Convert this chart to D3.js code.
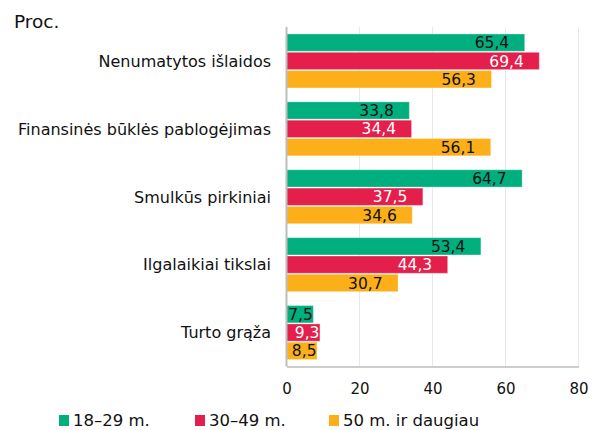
<!DOCTYPE html>
<html>
<head>
<meta charset="utf-8">
<script src="https://cdn.jsdelivr.net/npm/d3@7"></script>
<style>
  body { margin: 0; background: #fff; }
  text { font-family: "DejaVu Sans", Verdana, sans-serif; }
</style>
</head>
<body>
<div id="chart"></div>
<script>
// data
var categories = ["Nenumatytos išlaidos", "Finansinės būklės pablogėjimas", "Smulkūs pirkiniai", "Ilgalaikiai tikslai", "Turto grąža"];
var seriesNames = ["18–29 m.", "30–49 m.", "50 m. ir daugiau"];
var young = [65.4, 33.8, 64.7, 53.4, 7.5];
var middle = [69.4, 34.4, 37.5, 44.3, 9.3];
var older = [56.3, 56.1, 34.6, 30.7, 8.5];
var xTicks = [0, 20, 40, 60, 80];

var colors = ["#00ae7e", "#e41f4b", "#fcaf18"];
var labelColors = ["#111", "#fff", "#111"];
var series = [young, middle, older];

var width = 598, height = 430;
var plotLeft = 286.5, plotRight = 578.5, plotTop = 27, plotBottom = 366.5;

var svg = d3.select("#chart").append("svg")
  .attr("width", width)
  .attr("height", height);

var x = d3.scaleLinear().domain([0, 80]).range([plotLeft, plotRight]);
var y = d3.scaleBand().domain(categories).range([plotTop, plotBottom]).paddingInner(0.19).paddingOuter(0.095);
var ySub = d3.scaleBand().domain(d3.range(seriesNames.length)).range([0, y.bandwidth()]);

// gridlines
svg.append("g").selectAll("line")
  .data(xTicks.slice(1))
  .join("line")
  .attr("x1", d => x(d)).attr("x2", d => x(d))
  .attr("y1", plotTop).attr("y2", plotBottom)
  .attr("stroke", "#e8e8e8").attr("stroke-width", 1);

// bars
var groups = svg.append("g").selectAll("g")
  .data(categories)
  .join("g")
  .attr("transform", d => "translate(0," + y(d) + ")");

groups.each(function(cat, ci) {
  var g = d3.select(this);
  series.forEach(function(vals, si) {
    var v = vals[ci];
    g.append("rect")
      .attr("x", x(0))
      .attr("y", ySub(si) + 0.5)
      .attr("width", x(v) - x(0) - 0.5)
      .attr("height", ySub.bandwidth() - 1)
      .attr("fill", colors[si])
      .attr("stroke", "#fff").attr("stroke-opacity", 0.35).attr("stroke-width", 1);
    var t = g.append("text")
      .attr("y", ySub(si) + ySub.bandwidth() / 2)
      .attr("dy", "0.36em")
      .attr("text-anchor", "end")
      .attr("fill", labelColors[si])
      .style("font-size", "15.5px")
      .text(String(v).replace(".", ","));
    var w = t.node().getComputedTextLength();
    var end = x(v) - 16;
    if (end - w < x(0) + 2) end = x(v) - 1;
    t.attr("x", end);
  });
});

// category labels
svg.append("g").selectAll("text")
  .data(categories)
  .join("text")
  .attr("x", 271)
  .attr("y", d => y(d) + y.bandwidth() / 2)
  .attr("dy", "0.36em")
  .attr("text-anchor", "end")
  .attr("fill", "#111")
  .style("font-size", "16px")
  .text(d => d);

// axes lines
svg.append("line")
  .attr("x1", plotLeft).attr("x2", plotLeft).attr("y1", plotTop).attr("y2", plotBottom)
  .attr("stroke", "#bdbdbd").attr("stroke-width", 2);

var xAxis = d3.axisBottom(x).tickValues(xTicks).tickSize(0).tickPadding(17);
var ax = svg.append("g").attr("transform", "translate(0," + plotBottom + ")").call(xAxis);
ax.select(".domain").attr("stroke", "#bdbdbd").attr("stroke-width", 1.5);
ax.selectAll("text").style("font-size", "15px").attr("fill", "#111")
  .style("font-family", "'DejaVu Sans', Verdana, sans-serif");

// unit label
svg.append("text")
  .attr("x", 14).attr("y", 28)
  .attr("fill", "#111")
  .style("font-size", "18.5px")
  .text("Proc.");

// legend
var legendX = [59, 195, 329];
var legend = svg.append("g").selectAll("g")
  .data(seriesNames)
  .join("g")
  .attr("transform", (d, i) => "translate(" + legendX[i] + ",415)");
legend.append("rect")
  .attr("width", 10).attr("height", 11)
  .attr("fill", (d, i) => colors[i]);
legend.append("text")
  .attr("x", 14).attr("y", 11)
  .attr("fill", "#111")
  .style("font-size", "16.5px")
  .text(d => d);
</script>
</body>
</html>
